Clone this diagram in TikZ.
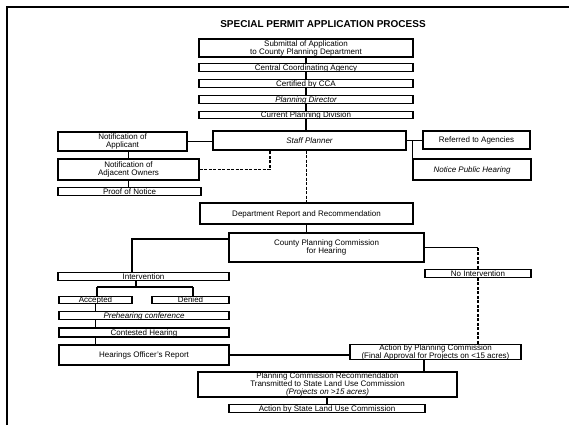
\documentclass[tikz,border=0pt]{standalone}
\usepackage{fontspec}
\setmainfont{Liberation Sans}
\begin{document}
\begin{tikzpicture}[x=1pt,y=-1pt,
  boxbase/.style={draw, line width=1.1pt, inner sep=0pt,
    font=\fontsize{8}{8}\selectfont},
  bx/.style={boxbase, align=center},
  thin/.style={boxbase, text height=6.3pt, text depth=0.6pt},
  ln/.style={line width=1.1pt},
  dln/.style={line width=1.1pt, dash pattern=on 3pt off 1.5pt}]
\useasboundingbox (0,0) rectangle (569,425);
\draw[line width=1.8pt] (7,425) -- (7,7) -- (569,7);
\node[font=\bfseries\fontsize{10}{11}\selectfont] (title) at (323,24) {SPECIAL PERMIT APPLICATION PROCESS};
\node[bx, minimum width=214, minimum height=18] (sub) at (306,48) {Submittal of Application\\to County Planning Department};
\node[thin, minimum width=214, minimum height=7.5] (cca) at (306,67.5) {Central Coordinating Agency};
\node[thin, minimum width=214, minimum height=7.5] (cert) at (306,83.5) {Certified by CCA};
\node[thin, minimum width=214, minimum height=7.5] (pdir) at (306,99.5) {\itshape Planning Director};
\node[thin, minimum width=214, minimum height=7.5] (cpd) at (306,115) {Current Planning Division};
\node[thin, minimum width=193, minimum height=19] (staff) at (309.5,140.5) {\itshape Staff Planner};
\node[bx, minimum width=129, minimum height=19] (napp) at (122.5,141.5) {Notification of\\Applicant};
\node[bx, minimum width=141, minimum height=21] (nadj) at (128.5,169.5) {Notification of\\Adjacent Owners};
\node[thin, minimum width=143, minimum height=7.5] (proof) at (129.5,191.5) {Proof of Notice};
\node[thin, minimum width=107, minimum height=18] (ref) at (476.5,140) {Referred to Agencies};
\node[thin, minimum width=118, minimum height=21] (notice) at (472,169.5) {\itshape Notice Public Hearing};
\node[thin, minimum width=213, minimum height=21] (dept) at (306.5,213.5) {Department Report and Recommendation};
\node[bx, minimum width=195, minimum height=29] (county) at (326.5,247.5) {County Planning Commission\\for Hearing};
\node[thin, minimum width=171, minimum height=7.5] (interv) at (143.5,276.5) {Intervention};
\node[thin, minimum width=106, minimum height=7.5] (noint) at (478,273.5) {No Intervention};
\node[thin, minimum width=73, minimum height=7.5] (acc) at (95.5,300) {Accepted};
\node[thin, minimum width=77, minimum height=7.5] (den) at (190.5,300) {Denied};
\node[thin, minimum width=170, minimum height=7.5] (pre) at (144,315.5) {\itshape Prehearing conference};
\node[thin, minimum width=170, minimum height=9] (cont) at (144,332.5) {Contested Hearing};
\node[thin, minimum width=170, minimum height=20] (hor) at (144,355) {Hearings Officer's Report};
\node[bx, minimum width=171, minimum height=14] (act) at (435.5,352) {Action by Planning Commission\\(Final Approval for Projects on <15 acres)};
\node[bx, minimum width=259, minimum height=25] (pcr) at (327.5,384.5) {Planning Commission Recommendation\\Transmitted to State Land Use Commission\\\itshape(Projects on >15 acres)};
\node[thin, minimum width=196, minimum height=7.5] (state) at (327,408.5) {Action by State Land Use Commission};
% junction coordinates
\coordinate (dj) at (270,150);
\coordinate (cl) at (229,239);
\coordinate (il) at (132,273);
\coordinate (ib) at (136,287);
\coordinate (ba) at (97,287);
\coordinate (bd) at (193,287);
\coordinate (aj) at (424,359);
% connectors
\draw[ln] (sub.south) -- (cca.north);
\draw[ln] (cca.south) -- (cert.north);
\draw[ln] (cert.south) -- (pdir.north);
\draw[ln] (pdir.south) -- (cpd.north);
\draw[ln] (cpd.south) -- (cpd.south |- staff.north);
\draw[ln] (napp.east) -- (napp.east -| staff.west);
\draw[ln] (nadj.north |- napp.south) -- (nadj.north);
\draw[ln] (nadj.south) -- (nadj.south |- proof.north);
\draw[dln] (nadj.east) -| (dj);
\draw[ln] (staff.east) -- (staff.east -| ref.west);
\draw[ln] (staff.east -| notice.north west) -- (notice.north west);
\draw[dln] (staff.south -| dept.north) -- (dept.north);
\draw[ln] (dept.south) -- (dept.south |- county.north);
\draw[ln] (cl) -| (il);
\draw[ln] (county.east) -- (county.east -| noint.north);
\draw[dln] (county.east -| noint.north) -- (noint.north);
\draw[dln] (noint.south) -- (noint.south |- act.north);
\draw[ln] (ib |- interv.south) -- (ib);
\draw[ln] (ba) -- (bd);
\draw[ln] (ba) -- (ba |- acc.north);
\draw[ln] (bd) -- (bd |- den.north);
\draw[ln] (acc.south) -- (acc.south |- pre.north);
\draw[ln] (pre.south -| acc.south) -- (cont.north -| acc.south);
\draw[ln] (cont.south -| acc.south) -- (hor.north -| acc.south);
\draw[ln] (hor.east) -- (hor.east -| act.west);
\draw[ln] (aj) -- (aj |- pcr.north);
\draw[ln] (pcr.south -| state.north) -- (state.north);
\end{tikzpicture}
\end{document}
